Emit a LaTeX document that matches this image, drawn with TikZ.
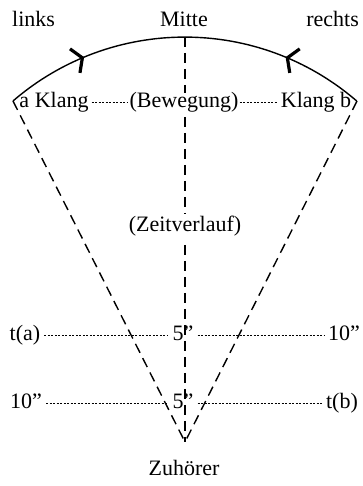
\documentclass[tikz,border=0pt]{standalone}
\usepackage{fontspec}
\setmainfont{Liberation Serif}
\usetikzlibrary{arrows.meta,decorations.markings}
\begin{document}
\begin{tikzpicture}[x=1pt,y=1pt,font=\fontsize{22}{26}\selectfont,
		lbl/.style={inner sep=0pt,anchor=base},
		zeit/.style={inner xsep=4pt,inner ysep=0pt,anchor=base,text height=15pt,text depth=4pt},
		strahl/.style={dash pattern=on 10pt off 6pt,line width=1.4pt},
		punkt/.style={dash pattern=on 2pt off 1.5pt,line width=0.8pt},
		bogen/.style={line width=1.4pt,postaction={decorate},decoration={markings,
				mark=at position 0.224 with {\arrow[line width=3.2pt]{Straight Barb[length=8pt,width=26pt]}},
				mark=at position 0.776 with {\arrowreversed[line width=3.2pt]{Straight Barb[length=8pt,width=26pt]}}}}]
	\useasboundingbox (0,0) rectangle (363,486);
	\coordinate (lend) at (13,385);
	\coordinate (rend) at (357,385);
	\coordinate (top) at (185,449);
	\coordinate (apex) at (185,44);
	\draw[bogen] (lend) arc[start angle=130.8,end angle=49.2,radius=263];
	\draw[strahl] (top) -- (apex);
	\draw[strahl] (lend) -- (apex);
	\draw[strahl] (rend) -- (apex);
	\node[lbl,anchor=base west] (links) at (12,459) {links};
	\node[lbl] (mitte) at (184,459) {Mitte};
	\node[lbl,anchor=base east] (rechts) at (359,459) {rechts};
	\node[zeit,inner xsep=3pt] (klanga) at (54,378) {a Klang};
	\node[zeit,inner xsep=1pt,fill=white] (beweg) at (184,378) {(Bewegung)};
	\node[zeit,inner xsep=3pt] (klangb) at (316,378) {Klang b};
	\node[lbl,inner sep=3pt,fill=white] (zeit) at (185,254) {(Zeitverlauf)};
	\node[zeit] (ta) at (25,145) {t(a)};
	\node[zeit] (fa) at (183,145) {5”};
	\node[zeit] (za) at (344,145) {10”};
	\node[zeit] (zb) at (26,77) {10”};
	\node[zeit] (fb) at (183,77) {5”};
	\node[zeit] (tb) at (342,77) {t(b)};
	\node[lbl] (hoerer) at (184,10) {Zuhörer};
	\draw[punkt] (klanga) -- (beweg);
	\draw[punkt] (beweg) -- (klangb);
	\draw[punkt] (ta) -- (fa);
	\draw[punkt] (fa) -- (za);
	\draw[punkt] (zb) -- (fb);
	\draw[punkt] (fb) -- (tb);
\end{tikzpicture}
\end{document}
